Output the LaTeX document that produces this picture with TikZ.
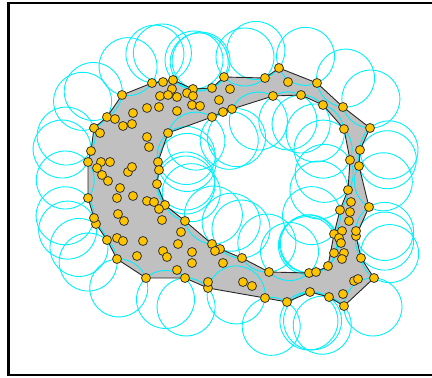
\documentclass[tikz,border=0pt]{standalone}
\usetikzlibrary{calc}
\definecolor{punktgelb}{RGB}{255,196,0}
\definecolor{huellgrau}{RGB}{192,192,192}
\definecolor{kreiscyan}{RGB}{0,240,255}
\begin{document}
\begin{tikzpicture}[x=1pt, y=-1pt]
    \tikzset{
        rahmen/.style={line width=2.5pt},
        flaeche/.style={fill=huellgrau, even odd rule},
        huelle/.style={draw=black!85, line width=0.9pt, line join=round},
        kreis/.style={draw=kreiscyan, line width=0.9pt},
        punkt/.style={fill=punktgelb, draw=black!80, line width=0.8pt}
    }
    \def\alpharad{29}
    \useasboundingbox (0,0) rectangle (432,378);

    % Randpunkte aussen
    \foreach \n/\x/\y in {1/122/95, 2/152/83, 3/163/82, 4/173/80, 5/193/89, 6/212/88,
        7/224/77, 8/265/78, 9/279/68, 10/317/83, 11/343/107, 12/370/128, 13/360/150,
        14/359/166, 15/369/207, 16/356/236, 17/361/258, 18/374/278, 19/344/306,
        20/329/297, 21/310/292, 22/287/302, 23/265/298, 24/208/288, 25/185/278,
        26/146/278, 27/117/259, 28/107/240, 29/96/224, 30/94/218, 31/88/198,
        32/88/162, 33/91/151, 34/94/128, 35/107/117}
        \coordinate (o\n) at (\x,\y);

    % Randpunkte innen (Loch)
    \foreach \n/\x/\y in {1/168/133, 2/158/162, 3/159/170, 4/157/184, 5/165/205,
        6/185/221, 7/212/244, 8/220/249, 9/242/258, 10/269/272, 11/309/273,
        12/316/272, 13/328/266, 14/334/234, 15/340/210, 16/348/190, 17/350/160,
        18/344/129, 19/323/105, 20/301/95, 21/273/96, 22/232/109, 23/223/112,
        24/212/117}
        \coordinate (i\n) at (\x,\y);

    % Flaeche mit Loch
    \fill[flaeche] (o1) \foreach \k in {2,...,35} { -- (o\k) } -- cycle
        (i1) \foreach \k in {2,...,24} { -- (i\k) } -- cycle;

    % leere Kreise an den Randkanten
    \foreach \k [evaluate=\k as \kk using {int(mod(\k,35)+1)}] in {1,...,35}
        \draw[kreis] let \p1=(o\k), \p2=(o\kk), \n1={veclen(\x2-\x1,\y2-\y1)},
            \n2={sqrt(max(\alpharad*\alpharad-0.25*\n1*\n1,1))}
            in ($(o\k)!0.5!(o\kk)!\n2!90:(o\kk)$) circle[radius=\alpharad pt];
    \foreach \k [evaluate=\k as \kk using {int(mod(\k,24)+1)}] in {1,...,24}
        \draw[kreis] let \p1=(i\k), \p2=(i\kk), \n1={veclen(\x2-\x1,\y2-\y1)},
            \n2={sqrt(max(\alpharad*\alpharad-0.25*\n1*\n1,1))}
            in ($(i\k)!0.5!(i\kk)!\n2!90:(i\kk)$) circle[radius=\alpharad pt];

    % Rand
    \draw[huelle] (o1) \foreach \k in {2,...,35} { -- (o\k) } -- cycle
        (i1) \foreach \k in {2,...,24} { -- (i\k) } -- cycle;

    % Punkte
    \foreach \k in {1,...,35} \draw[punkt] (o\k) circle[radius=4.5pt];
    \foreach \k in {1,...,24} \draw[punkt] (i\k) circle[radius=4.5pt];
    \foreach \x/\y in {172/89, 160/96, 168/95, 177/97, 187/93, 193/96, 133/113,
        147/108, 159/107, 177/111, 192/105, 200/106, 115/119, 123/126, 132/124,
        100/133, 147/137, 149/147, 101/162, 110/162, 97/168, 102/175, 108/181,
        128/172, 132/167, 120/188, 288/82, 230/89, 219/100, 117/198, 133/196,
        147/201, 154/202, 159/209, 162/220, 118/214, 124/221, 181/232, 178/244,
        192/252, 192/263, 117/238, 123/241, 143/241, 163/251, 167/257, 137/256,
        177/270, 208/282, 215/251, 223/263, 243/282, 252/286, 351/202, 350/212,
        349/221, 342/231, 339/238, 341/243, 356/231, 334/253, 344/253, 342/259,
        354/281, 358/279, 343/294}
        \draw[punkt] (\x,\y) circle[radius=4.5pt];

    \draw[rahmen] (8.5,3) rectangle (433.5,375);
\end{tikzpicture}
\end{document}
